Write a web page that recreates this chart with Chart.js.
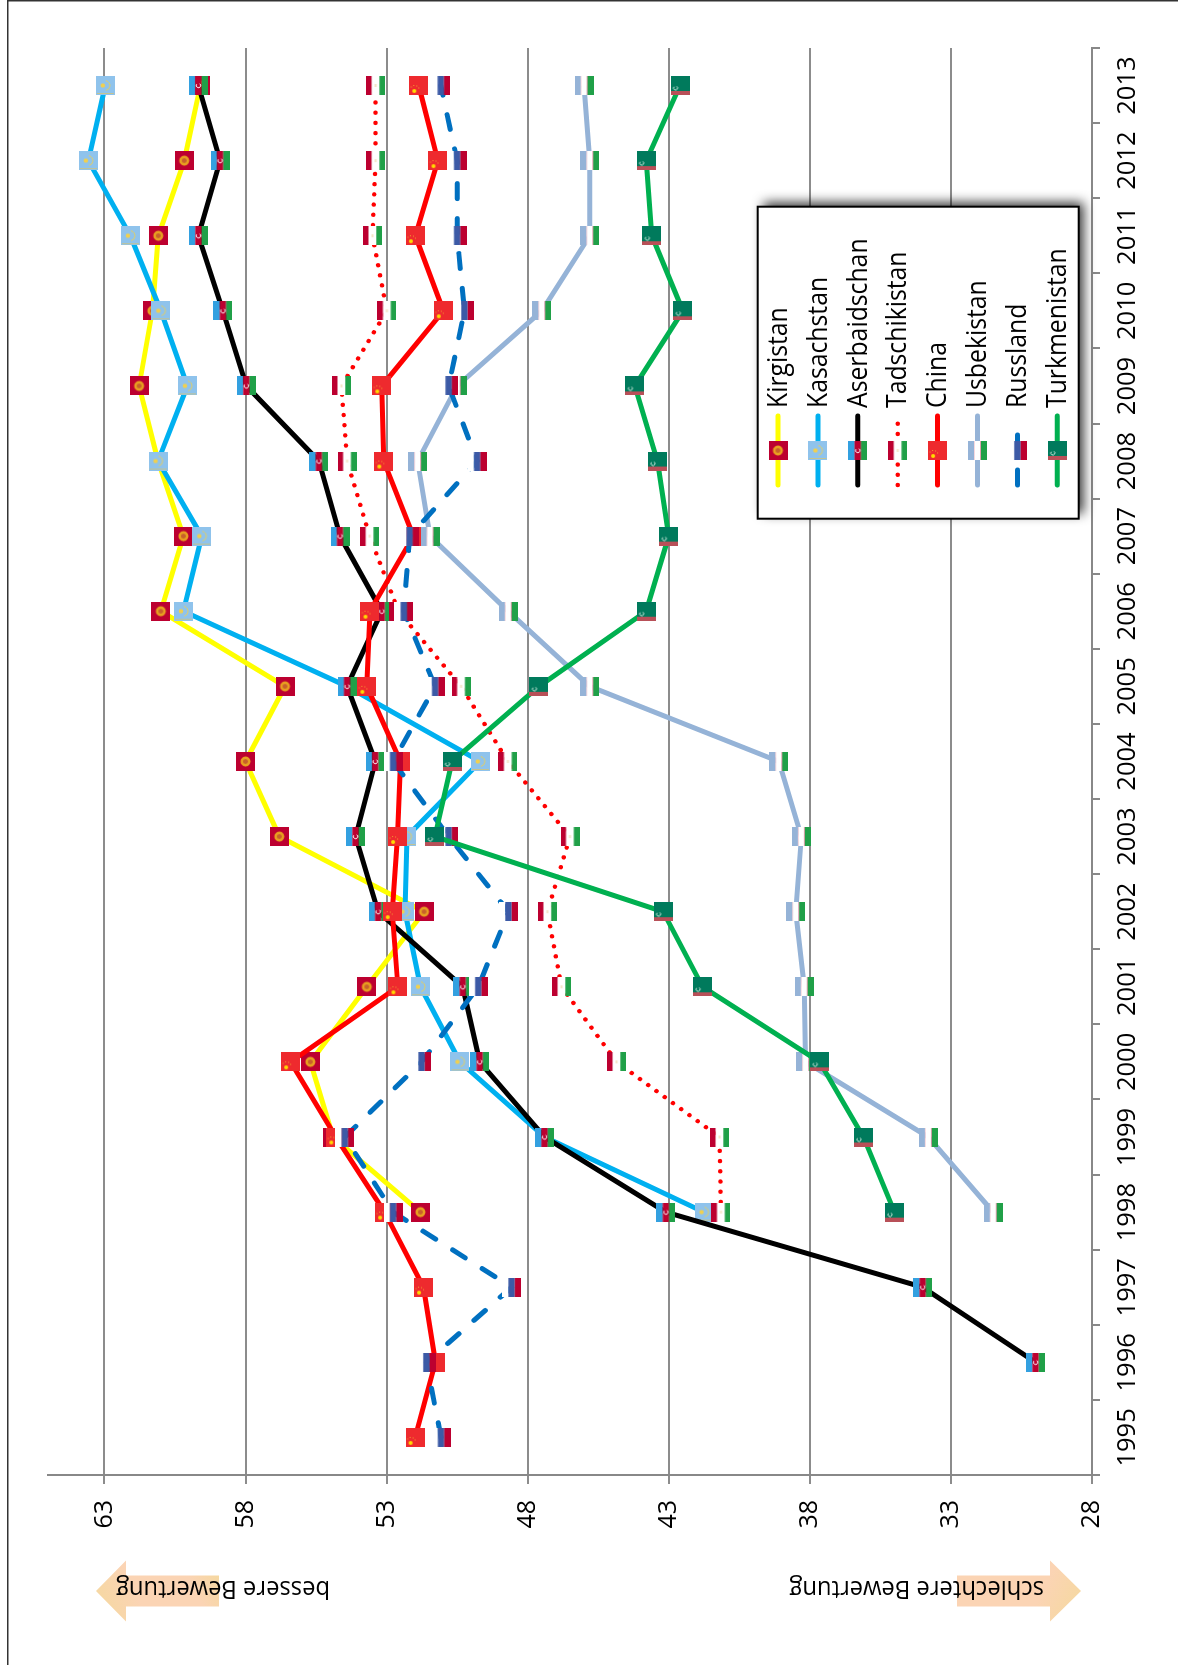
<!DOCTYPE html>
<html lang="de">
<head>
<meta charset="utf-8">
<title>Bewertung Zentralasien</title>
<script src="https://cdn.jsdelivr.net/npm/chart.js@4/dist/chart.umd.min.js"></script>
<style>
    html, body { margin: 0; padding: 0; background: #fff; overflow: hidden; }
    body { width: 1178px; height: 1665px; position: relative; }
    /* the whole sheet lies on its side: canvas x runs up the page */
    #chart {
        position: absolute; left: 0; top: 0;
        transform-origin: 0 0;
        transform: translate(0, 1665px) rotate(-90deg);
    }
</style>
</head>
<body>
<canvas id="chart" width="1665" height="1178"></canvas>
<script>
const years = ["1995","1996","1997","1998","1999","2000","2001","2002","2003","2004","2005","2006","2007","2008","2009","2010","2011","2012","2013"];
const valueTicks = [28, 33, 38, 43, 48, 53, 58, 63];

const kirgistan = [null, null, null, 51.8, 54.9, 55.7, 53.7, 51.67, 56.8, 58.0, 56.6, 61.0, 60.2, 61.1, 61.77, 61.3, 61.09, 60.17, 59.6];
const kasachstan = [null, null, null, 41.75, 47.4, 50.4, 51.8, 52.35, 52.28, 49.68, 54.4, 60.2, 59.55, 61.1, 60.06, 61.0, 62.08, 63.57, 62.97];
const aserbaidschan = [null, 30.0, 34.0, 43.1, 47.4, 49.7, 50.3, 53.3, 54.1, 53.4, 54.4, 53.17, 54.65, 55.4, 57.97, 58.8, 59.67, 58.9, 59.67];
const tadschikistan = [null, null, null, 41.15, 41.2, 44.85, 46.8, 47.3, 46.5, 48.7, 50.36, 52.58, 53.6, 54.4, 54.6, 52.99, 53.5, 53.39, 53.39];
const china = [51.99, 51.27, 51.69, 53.07, 54.8, 56.4, 52.6, 52.8, 52.61, 52.51, 53.7, 53.59, 52.05, 53.1, 53.17, 50.99, 51.98, 51.18, 51.86];
const usbekistan = [null, null, null, 31.5, 33.8, 38.15, 38.2, 38.5, 38.3, 39.1, 45.8, 48.69, 51.46, 51.9, 50.5, 47.5, 45.8, 45.8, 46.0];
const russland = [51.07, 51.59, 48.57, 52.77, 54.48, 51.76, 49.75, 48.68, 50.8, 52.77, 51.28, 52.39, 52.18, 49.79, 50.8, 50.24, 50.5, 50.5, 51.08];
const turkmenistan = [null, null, null, 35.0, 36.1, 37.65, 41.8, 43.2, 51.29, 50.68, 47.6, 43.8, 43.0, 43.4, 44.2, 42.5, 43.6, 43.8, 42.6];

const RED = "#bc0030";
const GREEN = "#20a048";

function stripes(c, colors, heights) {
    let y = 0;
    colors.forEach((col, i) => {
        c.fillStyle = col;
        c.fillRect(0, y, 19, heights[i]);
        y += heights[i];
    });
}

function crescent(c, x, y, r, col) {
    c.strokeStyle = col;
    c.lineWidth = 1;
    c.beginPath();
    c.arc(x, y, r, 0.6, 5.4);
    c.stroke();
}

const flagPainters = {
    kirgistan(c) {
        c.fillStyle = RED;
        c.fillRect(0, 0, 19, 19);
        c.fillStyle = "#e8a020";
        c.beginPath(); c.arc(9.5, 9.5, 5, 0, Math.PI * 2); c.fill();
        c.fillStyle = "#c8602a";
        c.beginPath(); c.arc(9.5, 9.5, 2.4, 0, Math.PI * 2); c.fill();
    },
    kasachstan(c) {
        c.fillStyle = "#8fc3ec";
        c.fillRect(0, 0, 19, 19);
        c.fillStyle = "#f0d050";
        c.beginPath(); c.arc(9.5, 7, 2.2, 0, Math.PI * 2); c.fill();
        c.strokeStyle = "#e8d060";
        c.lineWidth = 1;
        c.beginPath(); c.arc(9.5, 9, 5, 0.2, 2.9); c.stroke();
        c.fillStyle = "#c4c490";
        c.fillRect(1, 1, 1, 17);
    },
    aserbaidschan(c) {
        stripes(c, ["#33a0e0", RED, GREEN], [6.3, 6.4, 6.3]);
        crescent(c, 9.5, 9.5, 2.2, "#ffffff");
    },
    tadschikistan(c) {
        stripes(c, [RED, "#ffffff", GREEN], [5.7, 7.6, 5.7]);
        c.fillStyle = "#f5e6c8";
        c.fillRect(8, 8.5, 3, 2);
    },
    china(c) {
        c.fillStyle = "#ee2a2e";
        c.fillRect(0, 0, 19, 19);
        c.fillStyle = "#ffdd00";
        c.beginPath(); c.arc(4, 5, 2, 0, Math.PI * 2); c.fill();
        c.fillStyle = "#f4a030";
        [[7.5, 1.5], [9, 4], [8.5, 7], [6.5, 9]].forEach(p => c.fillRect(p[0], p[1], 1, 1));
    },
    usbekistan(c) {
        stripes(c, ["#95b3d7", "#f2c4cc", "#ffffff", "#d88a9c", GREEN], [6, 0.8, 5.4, 0.8, 6]);
    },
    russland(c) {
        stripes(c, ["#ffffff", "#3c5aa6", RED], [6.3, 6.4, 6.3]);
    },
    turkmenistan(c) {
        c.fillStyle = "#007a5c";
        c.fillRect(0, 0, 19, 19);
        c.fillStyle = "#b85058";
        c.fillRect(0, 0, 4, 19);
        crescent(c, 7, 5, 2, "#d8eee4");
    }
};

function makeFlag(name) {
    const flag = document.createElement("canvas");
    flag.width = 19;
    flag.height = 19;
    flagPainters[name](flag.getContext("2d"));
    return flag;
}

function series(label, data, color, flagName, dash, width) {
    return {
        label: label,
        data: data,
        borderColor: color,
        backgroundColor: color,
        borderWidth: width || 5,
        borderDash: dash || [],
        borderCapStyle: dash ? "round" : "butt",
        borderJoinStyle: "round",
        tension: 0,
        spanGaps: false,
        pointStyle: makeFlag(flagName),
        pointRadius: 9
    };
}

const datasets = [
    series("Kirgistan", kirgistan, "#ffff00", "kirgistan"),
    series("Kasachstan", kasachstan, "#00b0f0", "kasachstan"),
    series("Aserbaidschan", aserbaidschan, "#000000", "aserbaidschan"),
    series("Tadschikistan", tadschikistan, "#ff0000", "tadschikistan", [0.01, 10.2], 4.5),
    series("China", china, "#ff0000", "china"),
    series("Usbekistan", usbekistan, "#95b3d7", "usbekistan"),
    series("Russland", russland, "#0070c0", "russland", [15, 20]),
    series("Turkmenistan", turkmenistan, "#00b050", "turkmenistan")
];
// later countries paint over earlier ones
datasets.forEach((d, i) => { d.order = datasets.length - i; });

function drawLegend(ctx) {
    const left = 1146.3, right = 1458.3, top = 757.7, bottom = 1078.7;
    ctx.save();
    ctx.shadowColor = "rgba(0,0,0,0.8)";
    ctx.shadowBlur = 11;
    ctx.shadowOffsetX = 5;
    ctx.shadowOffsetY = 5;
    ctx.fillStyle = "#fff";
    ctx.fillRect(left, top, right - left, bottom - top);
    ctx.restore();
    ctx.save();
    ctx.strokeStyle = "#000";
    ctx.lineWidth = 2;
    ctx.strokeRect(left, top, right - left, bottom - top);
    datasets.forEach((d, i) => {
        const rowY = 778 + i * 39.9;
        ctx.save();
        ctx.strokeStyle = d.borderColor;
        ctx.lineWidth = d.borderWidth;
        ctx.lineCap = "round";
        ctx.setLineDash(d.borderDash);
        ctx.beginPath();
        ctx.moveTo(1180, rowY);
        ctx.lineTo(1249, rowY);
        ctx.stroke();
        ctx.restore();
        ctx.drawImage(d.pointStyle, 1205, rowY - 9.5);
        narrowText(ctx, d.label, 1257, rowY + 8.7, "27px 'Open Sans'", 0.917);
    });
    ctx.restore();
}

function narrowText(ctx, text, x, y, font, squeeze) {
    ctx.save();
    ctx.font = font;
    ctx.fillStyle = "#000";
    ctx.textAlign = "left";
    ctx.textBaseline = "alphabetic";
    ctx.translate(x, y);
    ctx.scale(squeeze, 1);
    ctx.fillText(text, 0, 0);
    ctx.restore();
}

// block arrow along the sheet's long edge, coordinates in canvas space
function drawArrow(ctx, tipV, baseV, endV, label, textV, endColor) {
    const midU = 74, headHalf = 30.5, shaftHalf = 15.5;
    const grad = ctx.createLinearGradient(midU - headHalf, tipV, midU + headHalf, endV);
    grad.addColorStop(0, "#f4d99c");
    grad.addColorStop(0.35, "#fbd4b4");
    grad.addColorStop(0.75, "#fbd4b4");
    grad.addColorStop(1, endColor);
    ctx.save();
    ctx.fillStyle = grad;
    ctx.beginPath();
    ctx.moveTo(midU, tipV);
    ctx.lineTo(midU + headHalf, baseV);
    ctx.lineTo(midU + shaftHalf, baseV);
    ctx.lineTo(midU + shaftHalf, endV);
    ctx.lineTo(midU - shaftHalf, endV);
    ctx.lineTo(midU - shaftHalf, baseV);
    ctx.lineTo(midU - headHalf, baseV);
    ctx.closePath();
    ctx.fill();
    ctx.translate(84, textV);
    ctx.rotate(-Math.PI / 2);
    narrowText(ctx, label, 0, 0, "26px 'Open Sans'", 0.915);
    ctx.restore();
}

const sheetExtras = {
    id: "sheetExtras",
    afterDraw(chart) {
        const ctx = chart.ctx;
        // sheet edge
        ctx.save();
        ctx.fillStyle = "#333";
        ctx.fillRect(0, 7, 1665, 1.5);
        ctx.fillRect(1663.5, 7, 1.5, 1171);
        ctx.restore();
        drawArrow(ctx, 96, 126, 219, "bessere Bewertung", 330, "#f4d99c");
        drawArrow(ctx, 1081, 1050, 957, "schlechtere Bewertung", 1044, "#fbd4b4");
        drawLegend(ctx);
    }
};

new Chart(document.getElementById("chart"), {
    type: "line",
    data: { labels: years, datasets: datasets },
    options: {
        responsive: false,
        animation: false,
        devicePixelRatio: 1,
        layout: { padding: { left: 0, top: 48, right: 48, bottom: 0 } },
        plugins: { legend: { display: false }, tooltip: { enabled: false } },
        scales: {
            x: {
                offset: true,
                grid: { offset: true, drawOnChartArea: false, color: "#888", lineWidth: 2, tickLength: 8 },
                border: { color: "#888", width: 2 },
                ticks: { color: "#000", font: { family: "'Open Sans'", size: 25.5 }, padding: 12, maxRotation: 0, autoSkip: false },
                afterFit(scale) { scale.height = 86; }
            },
            y: {
                min: 28,
                max: 65,
                grid: { color: "#8c8c8c", lineWidth: 2, tickLength: 9 },
                border: { color: "#888", width: 2 },
                ticks: { color: "#000", font: { family: "'Open Sans'", size: 25 }, padding: 16 },
                afterBuildTicks(scale) { scale.ticks = valueTicks.map(v => ({ value: v })); },
                afterFit(scale) { scale.width = 190; }
            }
        }
    },
    plugins: [sheetExtras]
});
</script>
</body>
</html>
